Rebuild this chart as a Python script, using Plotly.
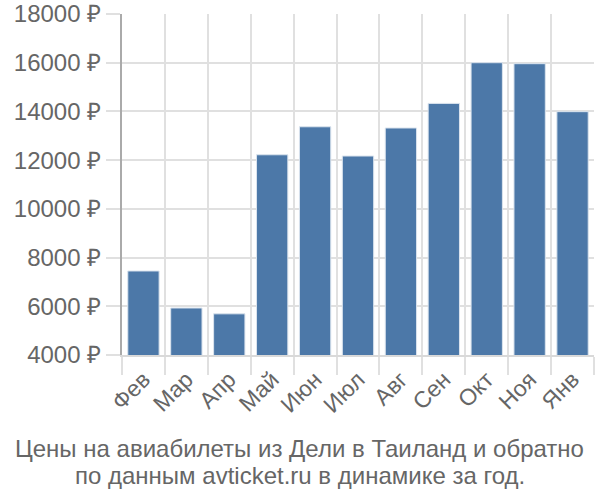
import plotly.graph_objects as go

months = ["Фев", "Мар", "Апр", "Май", "Июн", "Июл", "Авг", "Сен", "Окт", "Ноя", "Янв"]
prices = [7450, 5930, 5690, 12220, 13370, 12170, 13320, 14330, 16000, 15960, 13990]
y_ticks = [4000, 6000, 8000, 10000, 12000, 14000, 16000, 18000]
y_labels = [f"{v} ₽" for v in y_ticks]

title_lines = ["Цены на авиабилеты из Дели в Таиланд и обратно",
               "по данным avticket.ru в динамике за год."]

fig = go.Figure(go.Bar(
    x=months,
    y=prices,
    marker=dict(color="#4c78a8", line=dict(color="#dbe4ee", width=1)),
))

fig.update_layout(
    width=600, height=500,
    margin=dict(l=122, r=6, t=14, b=145),
    plot_bgcolor="white",
    paper_bgcolor="white",
    bargap=0.27,
    font=dict(family="Liberation Sans, Arial, sans-serif", size=24, color="#666"),
    showlegend=False,
)
fig.update_xaxes(
    range=[-0.5, len(months) - 0.5],
    automargin=False,
    tickson="boundaries",
    showgrid=True, gridcolor="#e0e0e0", gridwidth=2,
    ticks="outside", ticklen=18, tickcolor="#e0e0e0", tickwidth=2,
    tickangle=-45,
    tickfont=dict(size=23, color="#666"),
    showline=True, linecolor="#d9d9d9", linewidth=2,
)
fig.update_yaxes(
    range=[4000, 18000],
    automargin=False,
    ticklabeloverflow="allow",
    tickvals=y_ticks, ticktext=y_labels,
    showgrid=True, gridcolor="#e0e0e0", gridwidth=2,
    ticks="outside", ticklen=14, tickcolor="#e0e0e0", tickwidth=2,
    tickfont=dict(size=24, color="#666"),
    showline=True, linecolor="#aaaaaa", linewidth=2,
    zeroline=False,
)
for line, ypos in zip(title_lines, [-0.273, -0.352]):
    fig.add_annotation(
        text=line, xref="paper", yref="paper",
        x=0.377, y=ypos, xanchor="center", yanchor="middle",
        showarrow=False,
        font=dict(size=24, color="#666"),
    )

# drop the default 8px page margin so the figure fills the window
fig.write_html(
    "out.html",
    config={"displayModeBar": False},
    post_script="document.body.style.margin = '0';",
)
